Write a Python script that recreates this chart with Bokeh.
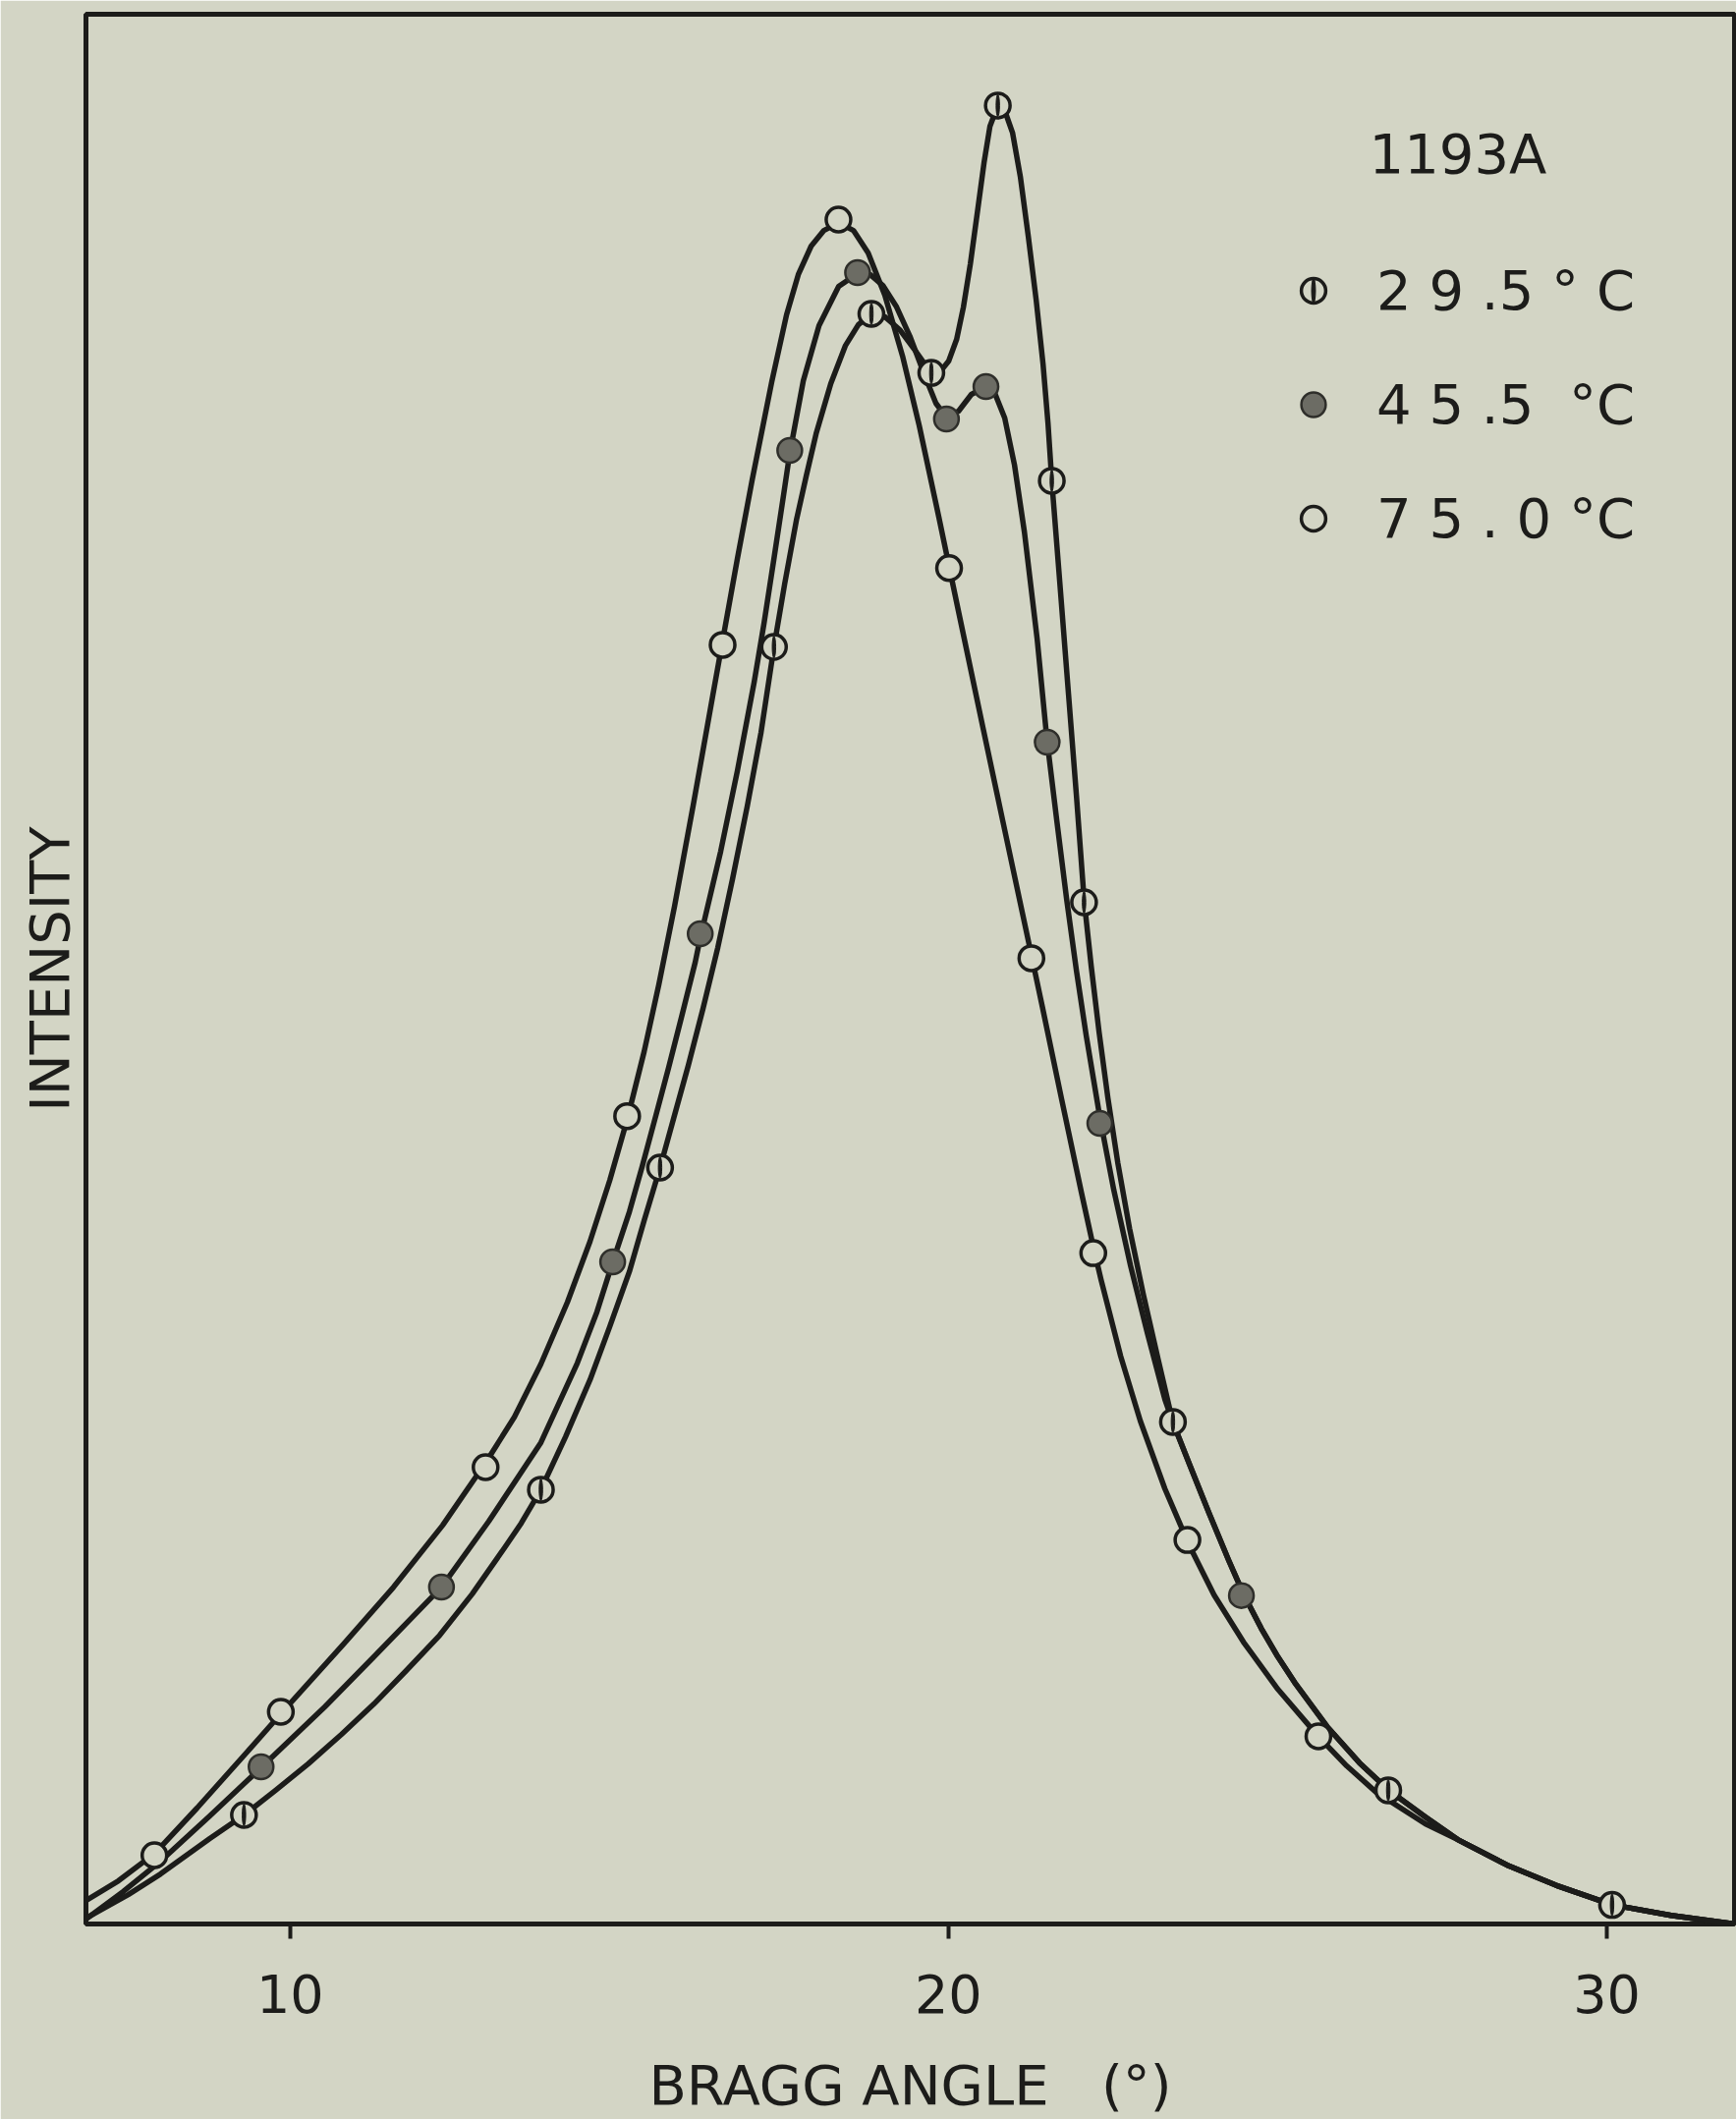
import numpy as np
from bokeh.plotting import figure
from bokeh.models import Range1d, FixedTicker, Legend, LegendItem, Label
from bokeh.embed import file_html
from bokeh.resources import INLINE

# ---- Bragg angle (deg) vs. relative intensity, sample 1193A ----
sample_name = "1193A"
NB = "\u00a0"
series_labels = ["2 9 .5 ° C", "4 5 .5" + NB + NB + "°C", "7 5 . 0 °C"]
x_ticks = [10, 20, 30]

# measured points, 29.5 °C
pts_295_x = [9.30, 13.81, 15.62, 17.35, 18.83, 19.74, 20.75, 21.57, 22.06, 23.41, 26.68, 30.08]
pts_295_y = [5.71, 22.74, 39.61, 66.87, 84.31, 81.22, 95.22, 75.57, 53.50, 26.29, 7.00, 1.00]

# measured points, 45.5 °C
pts_455_x = [9.56, 12.30, 14.90, 16.23, 17.59, 18.62, 19.97, 20.57, 21.50, 22.30, 24.45]
pts_455_y = [8.23, 17.64, 34.67, 51.85, 77.16, 86.47, 78.81, 80.50, 61.88, 41.92, 17.20]

# measured points, 75.0 °C
pts_750_x = [7.94, 9.86, 12.97, 15.12, 16.57, 18.33, 20.01, 21.26, 22.20, 23.63, 25.62]
pts_750_y = [3.60, 11.11, 23.92, 42.30, 66.98, 89.25, 71.00, 50.57, 35.13, 20.11, 9.83]

# hand-faired curves through the points
curve_295_x = [6.90, 7.542, 8.033, 8.781, 9.303, 9.781, 10.273, 10.781, 11.273, 11.766, 12.273,
               12.766, 13.258, 13.512, 13.810, 14.184, 14.557, 14.856, 15.154, 15.378, 15.62,
               15.826, 16.049, 16.273, 16.497, 16.721, 16.945, 17.154, 17.35, 17.512, 17.691,
               17.840, 17.990, 18.213, 18.437, 18.631, 18.825, 19.034, 19.258, 19.482, 19.736,
               19.885, 20.004, 20.124, 20.228, 20.333, 20.437, 20.541, 20.631, 20.75, 20.855,
               20.975, 21.094, 21.213, 21.333, 21.437, 21.512, 21.57, 21.691, 21.825, 21.945,
               22.064, 22.169, 22.288, 22.422, 22.572, 22.751, 22.960, 23.184, 23.407, 23.661,
               23.960, 24.258, 24.482, 24.751, 25.004, 25.258, 25.751, 26.243, 26.691, 27.243,
               27.736, 28.482, 29.228, 30.079, 30.975, 31.94]
curve_295_y = [0.30, 1.54, 2.62, 4.48, 5.71, 7.00, 8.38, 9.93, 11.52, 13.27, 15.12,
               17.28, 19.70, 20.99, 22.74, 25.51, 28.50, 31.28, 34.16, 36.83, 39.61,
               42.18, 44.96, 47.94, 51.13, 54.73, 58.54, 62.40, 66.87, 70.16, 73.51,
               75.82, 78.03, 80.66, 82.66, 83.74, 84.31, 84.16, 83.49, 82.46, 81.22,
               81.33, 81.84, 82.97, 84.67, 86.93, 89.56, 92.23, 94.14, 95.22, 94.96,
               93.78, 91.46, 88.37, 85.03, 81.69, 78.60, 75.57, 70.27, 64.35, 59.05,
               53.50, 50.15, 46.71, 43.26, 39.87, 36.42, 32.97, 29.58, 26.29, 24.07,
               21.50, 19.03, 17.28, 15.48, 13.99, 12.65, 10.34, 8.44, 7.00, 5.61,
               4.42, 3.09, 2.03, 1.01, 0.45, 0.00]

curve_455_x = [6.90, 7.467, 8.033, 8.781, 9.557, 10.527, 11.273, 12.30, 13.019, 13.810,
               14.363, 14.661, 14.90, 15.154, 15.348, 15.557, 15.751, 15.945, 16.154, 16.228,
               16.541, 16.795, 17.049, 17.199, 17.348, 17.497, 17.587, 17.796, 18.034, 18.333,
               18.62, 18.810, 19.004, 19.213, 19.422, 19.63, 19.81, 19.975, 20.154, 20.348,
               20.572, 20.706, 20.855, 21.004, 21.154, 21.348, 21.497, 21.646, 21.796, 21.945,
               22.094, 22.303, 22.512, 22.766, 23.019, 23.288, 23.407, 23.661, 23.960, 24.258,
               24.482, 24.751, 25.004, 25.258, 25.751, 26.243, 26.691, 27.243, 27.736, 28.482,
               29.228, 30.079, 30.975, 31.94]
curve_455_y = [0.26, 1.70, 3.29, 5.66, 8.18, 11.37, 13.99, 17.64, 21.09, 25.21,
               29.37, 32.05, 34.65, 37.29, 39.66, 42.34, 44.86, 47.48, 50.36, 51.60,
               56.17, 60.39, 65.02, 68.11, 71.45, 74.85, 76.95, 80.81, 83.69, 85.75,
               86.42, 86.37, 85.80, 84.67, 83.08, 81.17, 79.63, 78.86, 79.22, 80.09,
               80.50, 80.14, 78.86, 76.39, 72.89, 67.28, 62.00, 57.77, 53.65, 49.90,
               46.50, 42.18, 38.43, 34.47, 30.97, 27.47, 26.29, 24.07, 21.50, 19.03,
               17.28, 15.48, 13.99, 12.65, 10.34, 8.44, 7.00, 5.61, 4.42, 3.09,
               2.03, 1.01, 0.45, 0.00]

curve_750_x = [6.90, 7.393, 7.945, 8.587, 9.333, 9.86, 10.825, 11.572, 12.318, 12.975,
               13.407, 13.810, 14.213, 14.557, 14.856, 15.125, 15.378, 15.601, 15.840, 16.124,
               16.422, 16.572, 16.795, 17.019, 17.317, 17.541, 17.720, 17.915, 18.109, 18.333,
               18.557, 18.781, 19.034, 19.303, 19.557, 19.855, 20.019, 20.154, 20.527, 20.825,
               21.124, 21.258, 21.422, 21.721, 22.019, 22.199, 22.318, 22.616, 22.915, 23.288,
               23.661, 24.034, 24.482, 25.004, 25.616, 26.049, 26.497, 27.243, 27.736, 28.482,
               29.228, 30.079, 30.975, 31.94]
curve_750_y = [1.23, 2.26, 3.70, 6.07, 8.95, 11.01, 14.71, 17.64, 20.88, 24.18,
               26.54, 29.32, 32.56, 35.75, 38.94, 42.18, 45.68, 49.18, 53.29, 58.59,
               64.35, 67.23, 71.50, 75.62, 80.76, 84.26, 86.37, 87.86, 88.68, 89.09,
               88.68, 87.50, 85.29, 82.10, 78.45, 73.66, 70.94, 68.72, 62.60, 57.77,
               52.93, 50.77, 48.10, 43.16, 38.32, 35.49, 33.74, 29.73, 26.34, 22.79,
               19.80, 17.23, 14.76, 12.29, 9.83, 8.28, 6.90, 5.25, 4.42, 3.09,
               2.03, 1.01, 0.45, 0.00]

PAPER = "#d3d5c5"
INK = "#1c1c1a"
DOT_FILL = "#6c6c64"
FONT = "DejaVu Sans"

p = figure(width=1767, height=2157, output_backend="svg", toolbar_location=None,
           x_range=Range1d(6.90, 31.94), y_range=Range1d(0, 100),
           min_border_left=87, min_border_right=2, min_border_top=14, min_border_bottom=199,
           background_fill_color=PAPER, border_fill_color=PAPER,
           outline_line_color=INK, outline_line_width=5)
p.grid.visible = False

# bottom axis: three ticks pointing outward
xa = p.xaxis[0]
xa.ticker = FixedTicker(ticks=x_ticks)
xa.axis_line_color = None
xa.minor_tick_line_color = None
xa.major_tick_in = 0
xa.major_tick_out = 15
xa.major_tick_line_width = 4
xa.major_tick_line_color = INK
xa.major_label_standoff = 36
xa.major_label_text_font = FONT
xa.major_label_text_font_size = "54px"
xa.major_label_text_color = INK
xa.axis_label = "BRAGG ANGLE" + NB + NB + NB + "(°)"
xa.axis_label_standoff = 38
xa.axis_label_text_font = FONT
xa.axis_label_text_font_size = "56px"
xa.axis_label_text_font_style = "normal"
xa.axis_label_text_color = INK

# left axis: label only
ya = p.yaxis[0]
ya.ticker = FixedTicker(ticks=[])
ya.axis_line_color = None
ya.minor_tick_line_color = None
ya.major_tick_line_color = None
ya.major_tick_in = 0
ya.major_tick_out = 0
ya.axis_label = "INTENSITY"
ya.axis_label_standoff = 5
ya.axis_label_text_font = FONT
ya.axis_label_text_font_size = "56px"
ya.axis_label_text_font_style = "normal"
ya.axis_label_text_color = INK

# curves
for cx, cy in [(curve_750_x, curve_750_y), (curve_455_x, curve_455_y), (curve_295_x, curve_295_y)]:
    p.line(cx, cy, line_color=INK, line_width=5.5, line_join="round", line_cap="round")

# markers (screen-sized ellipses so the legend keys keep their shape)
MK = dict(width=25, height=25, width_units="screen", height_units="screen")
r750 = p.ellipse(pts_750_x, pts_750_y, fill_color=PAPER, line_color=INK, line_width=3.5, **MK)
r455 = p.ellipse(pts_455_x, pts_455_y, fill_color=DOT_FILL, line_color="#2e2e2a", line_width=2.5, **MK)
r295_ring = p.ellipse(pts_295_x, pts_295_y, fill_color=PAPER, line_color=INK, line_width=3.5, **MK)
r295_bar = p.ellipse(pts_295_x, pts_295_y, width=3.5, height=22, width_units="screen",
                     height_units="screen", fill_color=INK, line_color=INK, line_width=1)

legend = Legend(
    items=[LegendItem(label=series_labels[0], renderers=[r295_ring, r295_bar]),
           LegendItem(label=series_labels[1], renderers=[r455]),
           LegendItem(label=series_labels[2], renderers=[r750])],
    location=(1224, 1388), orientation="vertical",
    glyph_width=31, glyph_height=31, label_standoff=49, spacing=51, padding=10, margin=0,
    label_text_font=FONT, label_text_font_size="56px", label_text_color=INK,
    background_fill_alpha=0, border_line_alpha=0)
p.add_layout(legend)

p.add_layout(Label(x=1306, y=1802, x_units="screen", y_units="screen", text=sample_name,
                   text_font=FONT, text_font_size="56px", text_color=INK,
                   text_baseline="alphabetic"))

open("out.html", "w").write(file_html(p, INLINE))
